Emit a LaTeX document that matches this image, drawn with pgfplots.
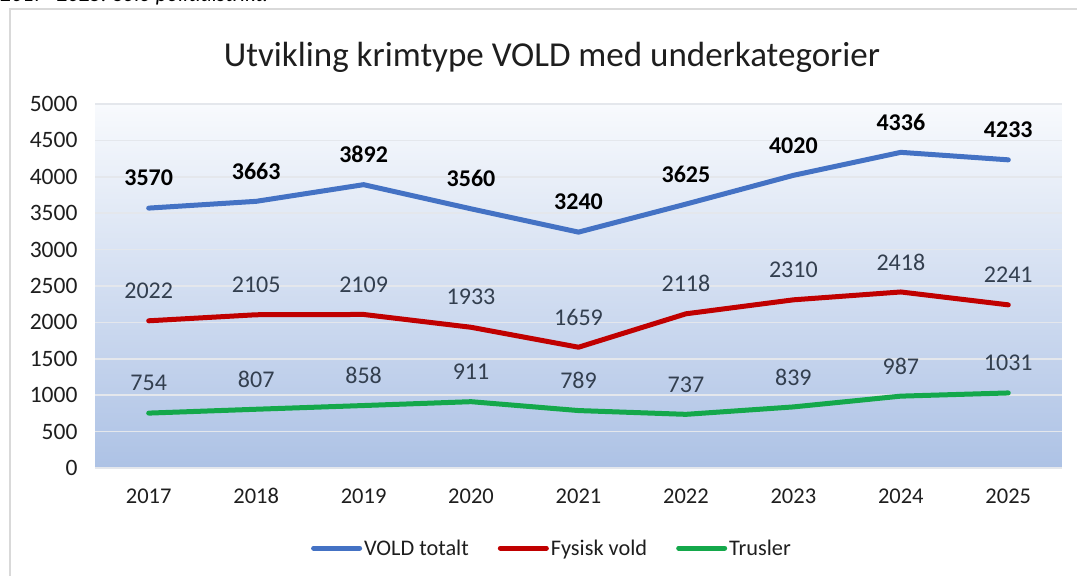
\documentclass[border=0pt]{standalone}
\usepackage{pgfplots}
\pgfplotsset{compat=1.18}
\usepackage{fontspec}
\setmainfont{Carlito}
\definecolor{cblue}{HTML}{4472C4}
\definecolor{cred}{HTML}{C00000}
\definecolor{cgreen}{HTML}{14A84B}
\definecolor{gridc}{HTML}{E4E7EC}
\definecolor{framec}{HTML}{D9D9D9}
\definecolor{bgtop}{HTML}{F8FAFD}
\definecolor{bgbot}{HTML}{ADC2E5}
\definecolor{lblgray}{HTML}{333F4F}
\definecolor{txt}{HTML}{1E1E1E}
\begin{document}
\begin{tikzpicture}[x=1pt,y=1pt]
\useasboundingbox (0,0) rectangle (1077,576);
\draw[color=framec, line width=1.5pt] (10,0) -- (10,567) -- (1077,567);
\node[anchor=base west, inner sep=0pt, font=\itshape\fontsize{22}{26}\selectfont] at (0,574) {2017- 2025. Solo politidistrikt.};
\node[anchor=base, inner sep=0pt, font=\fontsize{35}{40}\selectfont, text=txt] at (552,509) {Utvikling krimtype VOLD med underkategorier};
\begin{axis}[
  at={(95pt,108pt)}, anchor=south west,
  scale only axis, width=967pt, height=364pt,
  xmin=-0.5, xmax=8.5, ymin=0, ymax=5000,
  xtick={0,...,8},
  xticklabels={2017,2018,2019,2020,2021,2022,2023,2024,2025},
  ytick={0,500,...,5000},
  axis line style={draw=none},
  major tick length=0pt,
  ymajorgrids,
  major grid style={color=gridc, line width=1.5pt},
  axis background/.style={shade, top color=bgtop, bottom color=bgbot},
  /pgf/number format/assume math mode=true,
  /pgf/number format/1000 sep={},
  tick label style={text=txt},
  yticklabel style={font=\fontsize{23.5}{27}\selectfont, xshift=-14pt},
  xticklabel style={font=\fontsize{22.5}{26}\selectfont, yshift=-17pt},
  clip=false,
  legend columns=3,
  legend style={at={(0.4726,-0.22)}, anchor=center, draw=none, fill=none,
    font=\fontsize{22.3}{26}\selectfont, text=txt,
    /tikz/every even column/.append style={column sep=27pt}},
  legend image code/.code={\draw[#1, line width=5pt, line cap=round] (0pt,0pt) -- (46pt,0pt);},
  nodes near coords,
  point meta=y,
  every node near coord/.append style={anchor=center, yshift=30pt, font=\fontsize{24}{28}\selectfont},
]
\addplot[color=cblue, line width=5pt, line join=round, line cap=round,
  every node near coord/.append style={font=\bfseries\fontsize{24}{28}\selectfont, text=black}]
  coordinates {(0,3570) (1,3663) (2,3892) (3,3560) (4,3240) (5,3625) (6,4020) (7,4336) (8,4233)};
\addlegendentry{VOLD totalt}
\addplot[color=cred, line width=5pt, line join=round, line cap=round,
  every node near coord/.append style={text=lblgray}]
  coordinates {(0,2022) (1,2105) (2,2109) (3,1933) (4,1659) (5,2118) (6,2310) (7,2418) (8,2241)};
\addlegendentry{Fysisk vold}
\addplot[color=cgreen, line width=5pt, line join=round, line cap=round,
  every node near coord/.append style={text=lblgray}]
  coordinates {(0,754) (1,807) (2,858) (3,911) (4,789) (5,737) (6,839) (7,987) (8,1031)};
\addlegendentry{Trusler}
\end{axis}
\end{tikzpicture}
\end{document}
